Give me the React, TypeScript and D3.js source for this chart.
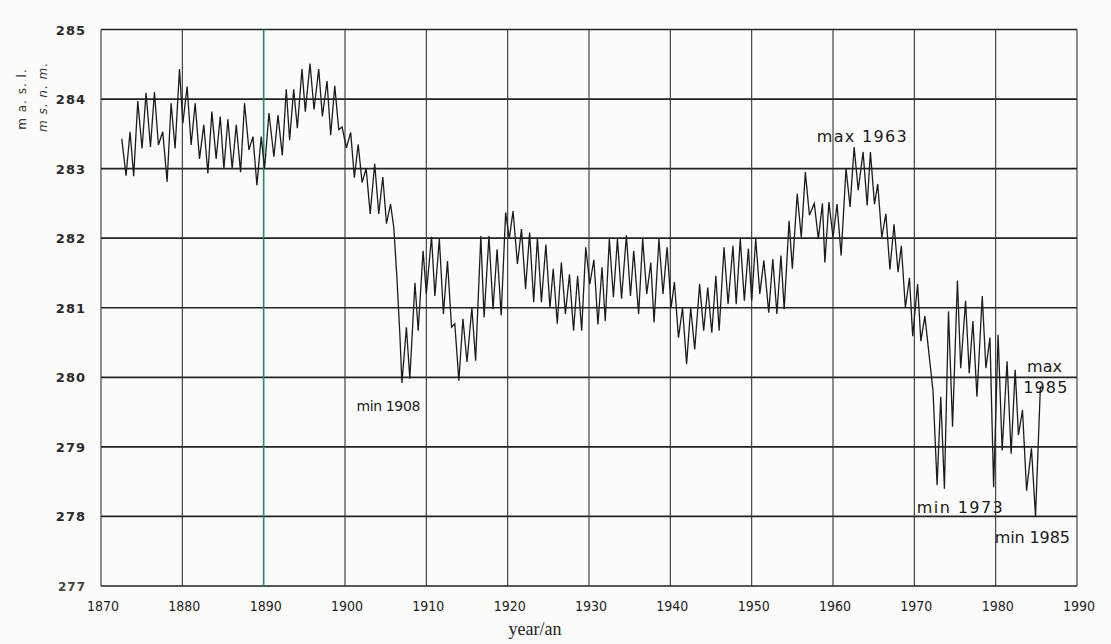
import React from "react";
import * as d3 from "d3";

const W = 1111;
const H = 644;

// axis ticks
const yearTicks = [1870, 1880, 1890, 1900, 1910, 1920, 1930, 1940, 1950, 1960, 1970, 1980, 1990];
const levelTicks = [277, 278, 279, 280, 281, 282, 283, 284, 285];

// water level (seasonal highs and lows)
const times1 = [
  1872.55, 1873.08, 1873.57, 1874.02, 1874.52, 1875.05, 1875.54, 1876.08, 1876.57, 1877.06,
  1877.59, 1878.13, 1878.62, 1879.11, 1879.65, 1880.06, 1880.59, 1881.08, 1881.58, 1882.11,
  1882.64, 1883.14, 1883.63, 1884.16, 1884.66, 1885.11, 1885.6, 1886.13, 1886.63, 1887.16,
  1887.65, 1888.19, 1888.68, 1889.17, 1889.7, 1890.11, 1890.65, 1891.26, 1891.76, 1892.29,
  1892.78, 1893.19, 1893.69, 1894.14, 1894.71, 1895.12, 1895.7, 1896.19, 1896.77, 1897.22,
  1897.79, 1898.24, 1898.74, 1899.23, 1899.64,
];
const levels1 = [
  283.43, 282.9, 283.53, 282.89, 283.97, 283.29, 284.09, 283.31, 284.1, 283.34,
  283.53, 282.81, 283.94, 283.29, 284.43, 283.65, 284.18, 283.34, 283.94, 283.14,
  283.63, 282.93, 283.82, 283.14, 283.75, 283.0, 283.71, 283.0, 283.63, 282.95,
  283.94, 283.27, 283.46, 282.76, 283.46, 283.0, 283.8, 283.17, 283.77, 283.19,
  284.14, 283.41, 284.14, 283.58, 284.43, 283.82, 284.51, 283.85, 284.43, 283.75,
  284.26, 283.48, 284.19, 283.56, 283.6,
];

const times2 = [
  1900.17, 1900.7, 1901.15, 1901.62, 1902.1, 1902.6, 1903.1, 1903.65, 1904.15, 1904.65,
  1905.1, 1905.6, 1906.0, 1906.4, 1906.75, 1907.0, 1907.55, 1907.97, 1908.6, 1909.0,
  1909.6, 1910.0, 1910.64, 1911.05, 1911.6, 1912.1, 1912.6, 1913.1, 1913.5, 1914.0,
  1914.5, 1915.0, 1915.6, 1916.06, 1916.7, 1917.1, 1917.7, 1918.2, 1918.7, 1919.2,
  1919.75, 1920.2, 1920.66, 1921.2, 1921.7, 1922.2, 1922.7, 1923.2, 1923.66, 1924.15,
  1924.7, 1925.2, 1925.6, 1926.1, 1926.6, 1927.1, 1927.6, 1928.1, 1928.6, 1929.1,
  1929.6,
];
const levels2 = [
  283.3, 283.52, 282.87, 283.35, 282.8, 283.0, 282.35, 283.07, 282.35, 282.88,
  282.21, 282.49, 282.15, 281.4, 280.6, 279.92, 280.72, 279.98, 281.36, 280.67,
  281.82, 281.2, 282.02, 281.17, 281.99, 280.91, 281.67, 280.72, 280.77, 279.95,
  280.84, 280.22, 281.0, 280.24, 282.03, 280.86, 282.03, 280.98, 281.84, 280.89,
  282.37, 281.99, 282.39, 281.63, 282.13, 281.27, 282.08, 281.08, 282.01, 281.08,
  281.91, 281.0, 281.56, 280.77, 281.65, 280.91, 281.48, 280.67, 281.46, 280.67,
  281.87,
];

const times3 = [
  1930.1, 1930.6, 1931.1, 1931.6, 1932.0, 1932.5, 1933.0, 1933.5, 1934.0, 1934.6,
  1935.1, 1935.5, 1936.1, 1936.6, 1937.1, 1937.6, 1938.0, 1938.6, 1939.1, 1939.6,
  1940.1, 1940.5, 1941.0, 1941.5, 1942.0, 1942.5, 1943.0, 1943.6, 1944.1, 1944.6,
  1945.1, 1945.6, 1946.0, 1946.6, 1947.1, 1947.7, 1948.1, 1948.6, 1949.1, 1949.6,
  1950.0, 1950.5, 1951.0, 1951.5, 1952.1, 1952.6, 1953.1, 1953.6, 1954.0, 1954.6,
  1955.0, 1955.6, 1956.1, 1956.6, 1957.1, 1957.7, 1958.2, 1958.7, 1959.0, 1959.5,
];
const levels3 = [
  281.34, 281.69, 280.76, 281.58, 280.81, 281.99, 281.15, 281.99, 281.13, 282.04,
  281.17, 281.82, 280.91, 281.99, 281.2, 281.65, 280.79, 281.99, 281.2, 281.87,
  281.0, 281.37, 280.57, 281.0, 280.19, 281.0, 280.4, 281.34, 280.67, 281.29,
  280.64, 281.46, 280.67, 281.87, 281.05, 281.89, 281.05, 281.99, 281.1, 281.85,
  281.1, 281.99, 281.2, 281.68, 280.93, 281.7, 280.91, 281.75, 280.98, 282.25,
  281.56, 282.64, 282.01, 282.95, 282.33, 282.5, 281.99, 282.5, 281.65, 282.52,
];

const times4 = [
  1960.0, 1960.5, 1961.0, 1961.6, 1962.1, 1962.6, 1963.1, 1963.7, 1964.2, 1964.6,
  1965.1, 1965.5, 1966.0, 1966.5, 1967.0, 1967.5, 1968.0, 1968.4, 1968.9, 1969.4,
  1969.8, 1970.4, 1970.8, 1971.3, 1971.9, 1972.3, 1972.8, 1973.25, 1973.7, 1974.2,
  1974.7, 1975.3, 1975.7, 1976.3, 1976.75, 1977.2, 1977.7, 1978.35, 1978.8, 1979.3,
  1979.75, 1980.3, 1980.8, 1981.4, 1981.9, 1982.4, 1982.8, 1983.3, 1983.8, 1984.4,
  1984.9, 1985.5,
];
const levels4 = [
  282.01, 282.49, 281.75, 283.0, 282.45, 283.31, 282.69, 283.24, 282.47, 283.24,
  282.49, 282.78, 282.01, 282.35, 281.55, 282.2, 281.51, 281.89, 281.0, 281.43,
  280.59, 281.34, 280.52, 280.88, 280.23, 279.8, 278.45, 279.72, 278.4, 280.95,
  279.29, 281.39, 280.13, 281.1, 280.06, 280.81, 279.72, 281.17, 280.13, 280.57,
  278.42, 280.61, 278.95, 280.23, 278.9, 280.11, 279.17, 279.53, 278.37, 278.98,
  278.0, 279.87,
];

// annotations: text, start year, baseline level, text width
const noteLabels = ["min 1908", "max 1963", "min 1973", "max", "1985", "min 1985"];
const noteYears = [1901.4, 1958.0, 1970.3, 1983.85, 1983.4, 1979.9];
const noteLevels = [279.52, 283.38, 278.05, 280.07, 279.78, 277.62];
const noteWidths = [64, 90, 86, 35, 44, 75];

const App = () => {
  const x = d3.scaleLinear().domain([1870, 1990]).range([101, 1077]);
  const y = d3.scaleLinear().domain([277, 285]).range([586, 29.5]);

  const times = [...times1, ...times2, ...times3, ...times4];
  const levels = [...levels1, ...levels2, ...levels3, ...levels4];
  const pts: [number, number][] = times.map((t, i) => [t, levels[i]]);

  const line = d3
    .line<[number, number]>()
    .x((d) => x(d[0]))
    .y((d) => y(d[1]));

  const sans = "'DejaVu Sans', Verdana, sans-serif";

  return (
    <svg
      width={W}
      height={H}
      style={{ position: "absolute", left: 0, top: 0, background: "#fcfcfb" }}
    >
      {/* horizontal grid */}
      {levelTicks.map((v) => (
        <line key={"h" + v} x1={x(1870)} x2={x(1990)} y1={y(v)} y2={y(v)} stroke="#222" strokeWidth={1.7} />
      ))}
      {/* vertical grid */}
      {yearTicks.map((yr) => (
        <line
          key={"v" + yr}
          x1={x(yr)}
          x2={x(yr)}
          y1={y(285)}
          y2={y(277)}
          stroke={yr === 1890 ? "#1f8a78" : "#333"}
          strokeWidth={yr === 1890 ? 1.6 : 1.1}
        />
      ))}

      <path d={line(pts) || ""} fill="none" stroke="#1c1c1c" strokeWidth={1.3} strokeLinejoin="miter" />

      {/* y labels */}
      {levelTicks.map((v) => (
        <text
          key={"yl" + v}
          x={86}
          y={y(v) + 5}
          textAnchor="end"
          fontFamily={sans}
          fontWeight="bold"
          fontSize={v === 277 ? 12 : 13}
          letterSpacing={1}
          fill={v === 277 ? "#444" : "#2a2a2a"}
        >
          {v}
        </text>
      ))}

      {/* x labels */}
      {yearTicks.map((yr) => (
        <text
          key={"xl" + yr}
          x={x(yr) + 2}
          y={611}
          textAnchor="middle"
          fontFamily="'Liberation Sans Narrow', 'DejaVu Sans Condensed', sans-serif"
          fontSize={14}
          fill="#222"
        >
          {yr}
        </text>
      ))}

      <text x={535} y={635} textAnchor="middle" fontFamily="'Liberation Serif', serif" fontSize={18} fill="#222">
        year/an
      </text>

      {/* y title */}
      <text
        transform="translate(26,99) rotate(-90)"
        textAnchor="middle"
        fontFamily={sans}
        fontSize={12}
        letterSpacing={1}
        fill="#333"
      >
        m a. s. l.
      </text>
      <text
        transform="translate(47,97) rotate(-90)"
        textAnchor="middle"
        fontFamily={sans}
        fontStyle="italic"
        fontSize={12}
        letterSpacing={1}
        fill="#333"
      >
        m s. n. m.
      </text>

      {/* annotations */}
      {noteLabels.map((s, i) => (
        <text
          key={"n" + i}
          x={x(noteYears[i])}
          y={y(noteLevels[i])}
          fontFamily={sans}
          fontSize={i === 0 ? 14 : 16}
          textLength={noteWidths[i]}
          lengthAdjust="spacing"
          fill="#1a1a1a"
        >
          {s}
        </text>
      ))}
    </svg>
  );
};

export default App;
